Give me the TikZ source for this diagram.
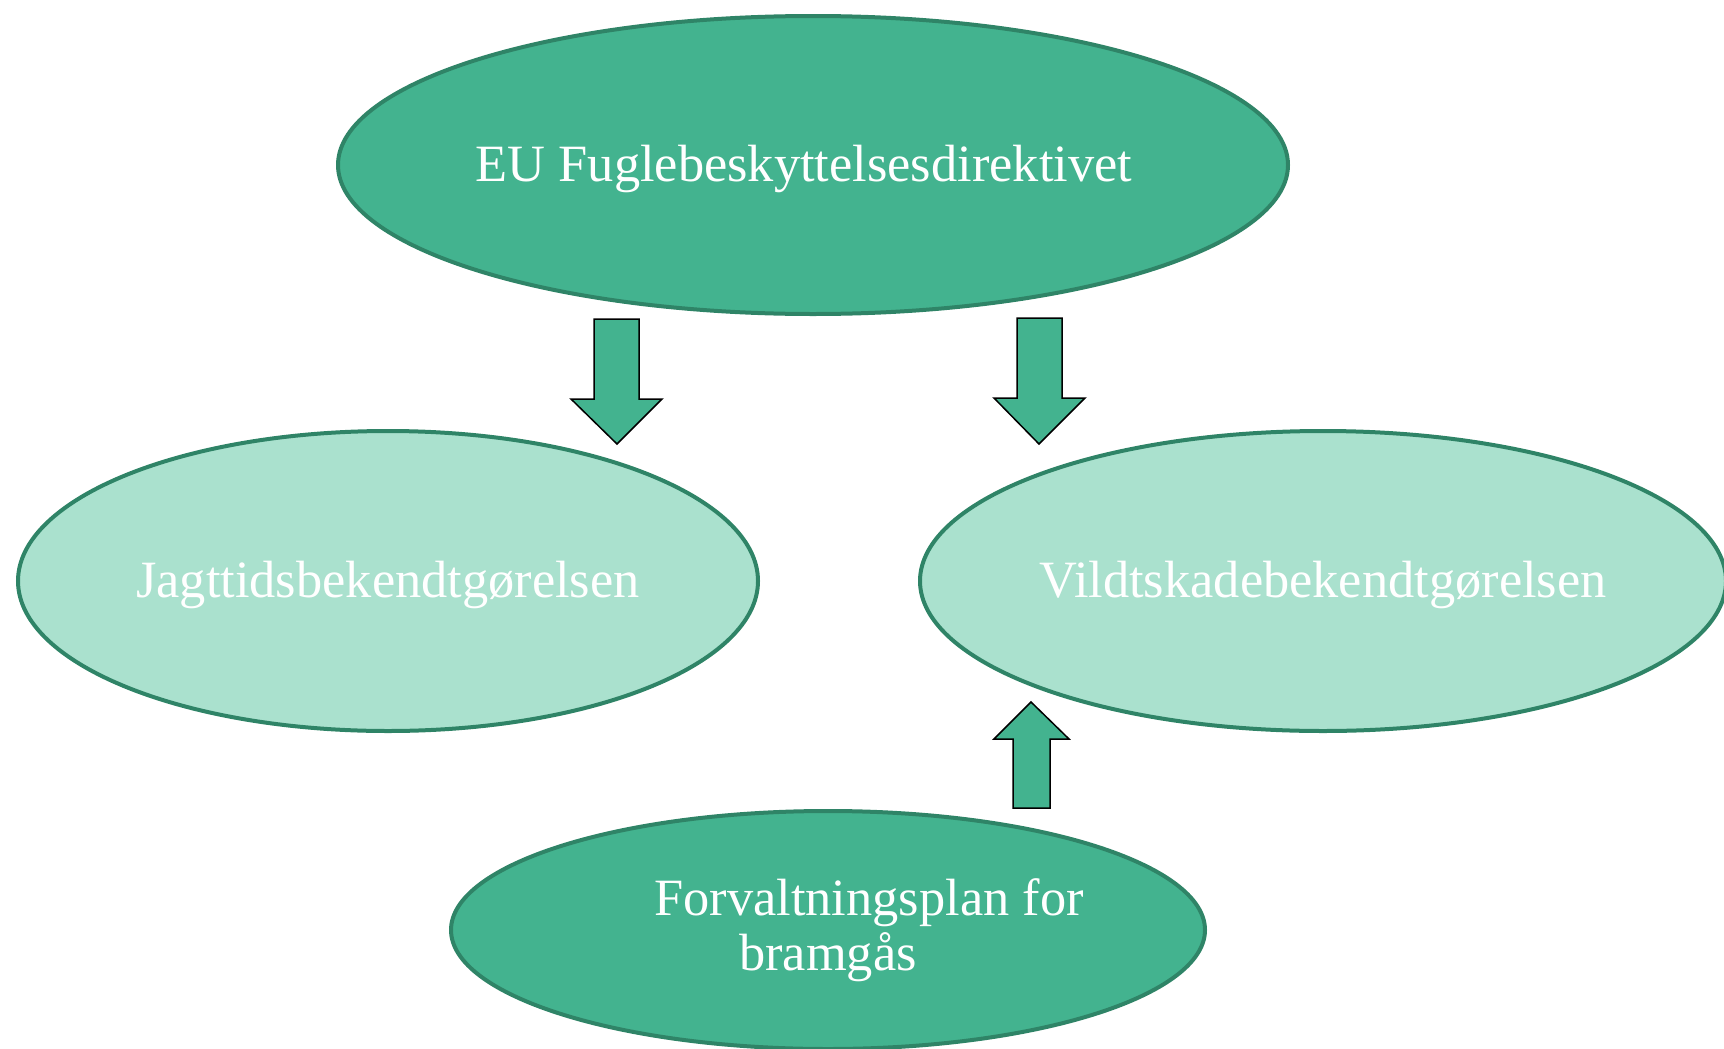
\documentclass[tikz,border=0pt]{standalone}
\usepackage{fontspec}
\setmainfont{Liberation Serif}
\usetikzlibrary{positioning, shapes.geometric}
\definecolor{morkgron}{HTML}{43B38F}
\definecolor{lysgron}{HTML}{AAE1CE}
\definecolor{kant}{HTML}{2F8467}
\tikzset{boble/.style={draw=kant, line width=2pt, ellipse, inner sep=0pt, text=white,
    font=\fontsize{26.2}{27.5}\selectfont}}
\tikzset{enlinje/.style={text height=22pt, text depth=5.5pt}}
\tikzset{blokpil/.style={draw=black, line width=0.75pt, fill=morkgron, line join=miter}}

\begin{document}
\begin{tikzpicture}[
            x = 0.5pt, y = -0.5pt
        ]
            \useasboundingbox (0,0) rectangle (1724,1049);

            \node[boble, enlinje, fill=morkgron, minimum width=475pt, minimum height=149pt] (eu) at (813,165) {\hspace*{-9pt}EU Fuglebeskyttelsesdirektivet};
            \node[boble, enlinje, fill=lysgron, minimum width=370pt, minimum height=150pt] (jagt) at (388,581) {Jagttidsbekendtgørelsen};
            \node[boble, enlinje, fill=lysgron, minimum width=403pt, minimum height=150pt, right= 79pt of jagt] (vildt) {Vildtskadebekendtgørelsen};
            \node[boble, fill=morkgron, minimum width=377pt, minimum height=119pt, align=center] (plan) at (828,930) {\hspace*{41pt}Forvaltningsplan for\\bramgås};

            % blokpile
            \draw[blokpil] (594,319) -- (639,319) -- (639,399) -- (662,399) -- (617,444) -- (571,399) -- (594,399) -- cycle;
            \draw[blokpil] (1017,318) -- (1062,318) -- (1062,398) -- (1085,398) -- (1039,444) -- (994,398) -- (1017,398) -- cycle;
            \draw[blokpil] (1013,808) -- (1050,808) -- (1050,739) -- (1069,739) -- (1031,702) -- (994,739) -- (1013,739) -- cycle;
        \end{tikzpicture}
\end{document}
